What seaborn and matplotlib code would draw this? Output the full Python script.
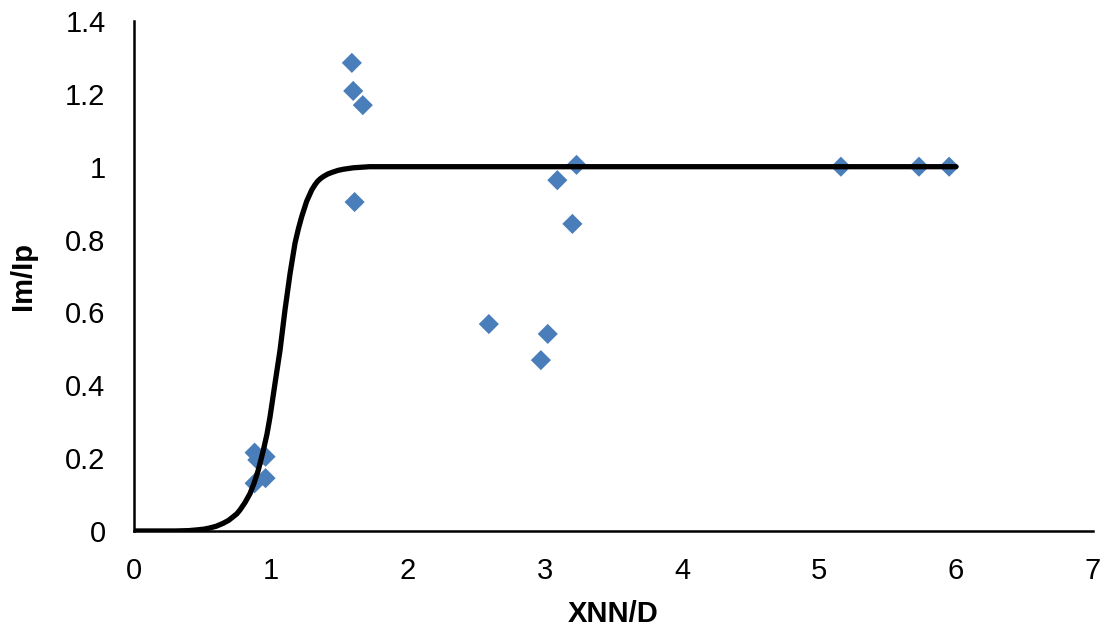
import matplotlib
matplotlib.use("Agg")
import matplotlib.pyplot as plt
import seaborn as sns
import pandas as pd

# measured points
xnn_d = [0.88, 0.96, 0.90, 0.88, 0.96,
         1.59, 1.60, 1.67, 1.61,
         2.59, 2.97, 3.02, 3.09, 3.20, 3.23,
         5.16, 5.73, 5.95]
im_ip = [0.215, 0.204, 0.195, 0.131, 0.145,
         1.285, 1.208, 1.169, 0.903,
         0.568, 0.469, 0.541, 0.963, 0.843, 1.005,
         1.0, 1.0, 1.0]

# model curve
curve_x = [0.0, 0.30, 0.40, 0.46, 0.51, 0.55, 0.60, 0.65, 0.69, 0.72, 0.75,
           0.774, 0.81, 0.847, 0.877, 0.907, 0.944, 0.97, 0.993, 1.029,
           1.066, 1.102, 1.139, 1.175, 1.20, 1.224, 1.26, 1.297, 1.32, 1.34,
           1.36, 1.382, 1.415, 1.45, 1.49, 1.528, 1.60, 1.72, 6.0]
curve_y = [0.0, 0.0, 0.001, 0.003, 0.005, 0.008, 0.013, 0.021, 0.029, 0.038,
           0.047, 0.058, 0.078, 0.103, 0.132, 0.167, 0.222, 0.265, 0.314,
           0.405, 0.497, 0.607, 0.707, 0.790, 0.830, 0.863, 0.905, 0.936,
           0.950, 0.960, 0.967, 0.973, 0.980, 0.985, 0.990, 0.993, 0.997,
           1.0, 1.0]

pts = pd.DataFrame({"x": xnn_d, "y": im_ip})
curve = pd.DataFrame({"x": curve_x, "y": curve_y})

sns.set_style("white")
plt.rcParams["font.family"] = ["Liberation Sans", "DejaVu Sans"]
plt.rcParams["text.color"] = "black"
plt.rcParams["axes.labelcolor"] = "black"

fig = plt.figure(figsize=(11.06, 6.34), dpi=100)
ax = fig.add_axes([0.1212, 0.1625, 0.8670, 0.8044])

sns.scatterplot(data=pts, x="x", y="y", marker="D", s=105,
                color="#4a7ebb", edgecolor="none", ax=ax, zorder=2)
sns.lineplot(data=curve, x="x", y="y", sort=False, estimator=None,
             color="black", linewidth=3.8, ax=ax, zorder=3)

ax.set_xlim(0, 7)
ax.set_ylim(0, 1.4)
ax.set_xticks(range(0, 8))
ax.set_yticks([0, 0.2, 0.4, 0.6, 0.8, 1.0, 1.2, 1.4])
ax.set_yticklabels(["0", "0.2", "0.4", "0.6", "0.8", "1", "1.2", "1.4"])

ax.spines["top"].set_visible(False)
ax.spines["right"].set_visible(False)
for s in ["left", "bottom"]:
    ax.spines[s].set_linewidth(1.8)
    ax.spines[s].set_color("black")

ax.tick_params(axis="both", direction="in", length=6.5, width=1.2,
               colors="black", labelsize=21)
ax.tick_params(axis="y", pad=20.5)
ax.tick_params(axis="x", pad=18.5)

ax.set_xlabel("XNN/D", fontsize=21, fontweight="bold", labelpad=11,
              color="black")
ax.set_ylabel("Im/Ip", fontsize=21, fontweight="bold", labelpad=20,
              color="black")

fig.savefig("out.png", dpi=100)
